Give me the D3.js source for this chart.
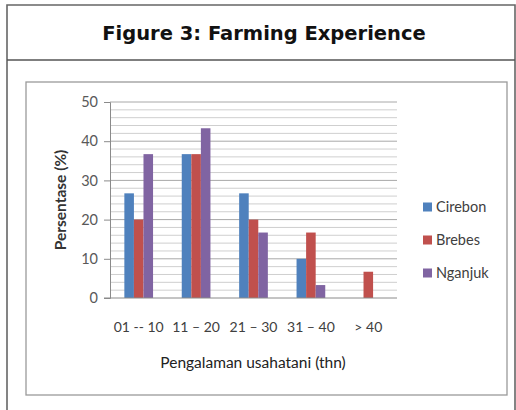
<!DOCTYPE html>
<html><head><meta charset="utf-8">
<script src="https://cdn.jsdelivr.net/npm/d3@7"></script>
<style>html,body{margin:0;padding:0;background:#fff;}svg{display:block;}</style>
</head><body>
<script>
const title = "Figure 3: Farming Experience";
const categories = ["01 -- 10", "11 – 20", "21 – 30", "31 – 40", "> 40"];
const seriesNames = ["Cirebon", "Brebes", "Nganjuk"];
const cirebon = [26.7, 36.7, 26.7, 10, 0];
const brebes = [20, 36.7, 20, 16.7, 6.7];
const nganjuk = [36.7, 43.3, 16.7, 3.3, 0];
const colors = ["#4F81BD", "#C0504D", "#8064A2"];
const yTicks = [0, 10, 20, 30, 40, 50];
const yLabel = "Persentase (%)";
const xLabel = "Pengalaman usahatani  (thn)";

const seriesValues = [cirebon, brebes, nganjuk];
const W = 516, H = 410;
const svg = d3.select("body").append("svg").attr("width", W).attr("height", H);
const font = "Lato, 'Open Sans', sans-serif";

// outer frame
svg.append("path").attr("d", "M7,412 V5 H515 V412").attr("fill", "none").attr("stroke", "#666").attr("stroke-width", 1.6);
svg.append("line").attr("x1", 7).attr("x2", 515).attr("y1", 60).attr("y2", 60).attr("stroke", "#555").attr("stroke-width", 1.6);
svg.append("text").attr("x", 264).attr("y", 39.5).attr("text-anchor", "middle")
  .attr("font-family", "'DejaVu Sans', Verdana, sans-serif").attr("font-weight", "bold").attr("font-size", 19.5)
  .attr("fill", "#111").text(title);

// inner chart box
svg.append("rect").attr("x", 26).attr("y", 82).attr("width", 481).attr("height", 313)
  .attr("fill", "#fff").attr("stroke", "#9a9a9a").attr("stroke-width", 1.3);

const pLeft = 110, pRight = 397, pTop = 102, pBottom = 298;
const y = d3.scaleLinear().domain([0, 50]).range([pBottom, pTop]);
const x0 = d3.scaleBand().domain(categories).range([pLeft, pRight]).paddingInner(0.5).paddingOuter(0.25);
const x1 = d3.scaleBand().domain(seriesNames).range([0, x0.bandwidth()]);

// gridlines every 2
const grid = d3.range(2, 51, 2);
svg.append("g").selectAll("line").data(grid).join("line")
  .attr("x1", pLeft).attr("x2", pRight).attr("y1", d => y(d)).attr("y2", d => y(d))
  .attr("stroke", d => d % 10 === 0 ? "#a8a8a8" : "#cfcfcf").attr("stroke-width", 1);

// y axis
const yAxis = d3.axisLeft(y).tickValues(yTicks).tickSize(6).tickPadding(6);
const gy = svg.append("g").attr("transform", `translate(${pLeft},0)`).call(yAxis);
gy.select(".domain").attr("stroke", "#8a8a8a");
gy.selectAll(".tick line").attr("stroke", "#8a8a8a");
gy.selectAll(".tick text").attr("font-family", font).attr("font-size", 14.5).attr("fill", "#595959");

// bars
const groups = svg.append("g").selectAll("g").data(categories).join("g")
  .attr("transform", d => `translate(${x0(d)},0)`);
groups.selectAll("rect").data((c, i) => seriesNames.map((s, k) => ({ s, k, v: seriesValues[k][i] }))).join("rect")
  .attr("x", d => x1(d.s)).attr("width", x1.bandwidth())
  .attr("y", d => y(d.v)).attr("height", d => y(0) - y(d.v))
  .attr("fill", d => colors[d.k]);

// baseline
svg.append("line").attr("x1", pLeft - 6).attr("x2", pRight).attr("y1", pBottom).attr("y2", pBottom).attr("stroke", "#8a8a8a");

// x axis labels
const xAxis = d3.axisBottom(x0).tickSize(0).tickPadding(24);
const gx = svg.append("g").attr("transform", `translate(0,${pBottom})`).call(xAxis);
gx.select(".domain").remove();
gx.selectAll(".tick text").attr("font-family", font).attr("font-size", 14).attr("fill", "#404040");

// axis titles
svg.append("text").attr("x", 253).attr("y", 368).attr("text-anchor", "middle")
  .attr("font-family", font).attr("font-size", 15.5).attr("fill", "#222").text(xLabel);
svg.append("text").attr("transform", "translate(66,200) rotate(-90)").attr("text-anchor", "middle")
  .attr("font-family", font).attr("font-weight", "bold").attr("font-size", 15.5).attr("fill", "#333").text(yLabel);

// legend
const leg = svg.append("g").selectAll("g").data(seriesNames).join("g")
  .attr("transform", (d, i) => `translate(423,${207 + i * 33})`);
leg.append("rect").attr("x", 0).attr("y", -4.5).attr("width", 9).attr("height", 9).attr("fill", (d, i) => colors[i]);
leg.append("text").attr("x", 13).attr("y", 5).attr("font-family", font).attr("font-size", 14.5).attr("fill", "#404040").text(d => d);
</script>
</body></html>
